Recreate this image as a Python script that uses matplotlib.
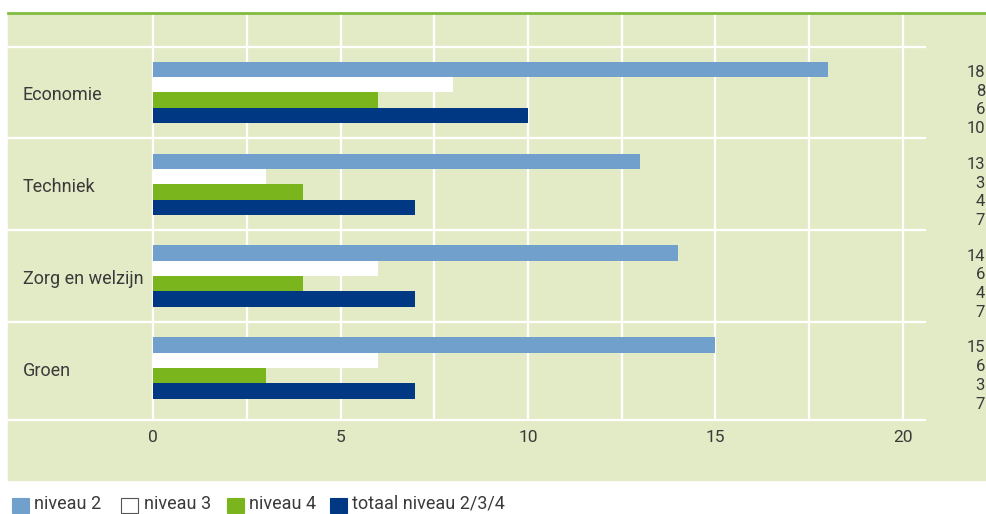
import matplotlib.pyplot as plt
import matplotlib.transforms as mtransforms
from matplotlib.patches import Rectangle
from matplotlib.lines import Line2D
import numpy as np

plt.rcParams['font.family'] = ['Roboto', 'DejaVu Sans']

# data
categories = ['Economie', 'Techniek', 'Zorg en welzijn', 'Groen']
series_names = ['niveau 2', 'niveau 3', 'niveau 4', 'totaal niveau 2/3/4']
niveau2 = [18, 13, 14, 15]
niveau3 = [8, 3, 6, 6]
niveau4 = [6, 4, 4, 3]
totaal = [10, 7, 7, 7]
xticks = [0, 5, 10, 15, 20]

colors = ['#70a0cb', '#ffffff', '#7ab51e', '#003884']
bg = '#e3eac6'
txt = '#3a3a3a'

W, H = 987, 514
fig = plt.figure(figsize=(W / 100, H / 100), dpi=100)

def fx(px):
    return px / W

def fy(py):
    return 1 - py / H

# panel background and top rule
fig.add_artist(Rectangle((fx(8), fy(480)), fx(987) - fx(8), fy(14) - fy(480),
                         transform=fig.transFigure, color=bg, zorder=0))
fig.add_artist(Line2D([fx(8), 1], [fy(13), fy(13)], transform=fig.transFigure,
                      color='#80bc40', lw=2, zorder=1))

# axes: 0 at x=153px, 37.5px per unit; rows 91.8px apart
ax = fig.add_axes([fx(8), fy(420), fx(925) - fx(8), fy(14) - fy(420)])
ax.patch.set_visible(False)
for s in ax.spines.values():
    s.set_visible(False)
ax.set_xlim(-145 / 37.5, (925 - 153) / 37.5)
ybot = (420 - 92.5) / 91.8
ax.set_ylim(ybot, (14 - 92.5) / 91.8)

for xv in np.arange(0, 20.1, 2.5):
    ax.axvline(xv, color='white', lw=1.6, zorder=1)
for yv in [-0.5, 0.5, 1.5, 2.5, ybot]:
    ax.axhline(yv, color='white', lw=1.6, zorder=1, clip_on=False)

y = np.arange(len(categories))
h = 0.167
all_series = [niveau2, niveau3, niveau4, totaal]
for i, (vals, c) in enumerate(zip(all_series, colors)):
    ax.barh(y + (i - 1.5) * h, vals, height=h, color=c, zorder=2, linewidth=0)

ax.set_yticks([])
ax.set_xticks(xticks)
ax.set_xticklabels([str(t) for t in xticks], fontsize=12.5, color=txt)
ax.tick_params(axis='x', length=0, pad=7)

# category labels and value columns
tr_left = mtransforms.blended_transform_factory(fig.transFigure, ax.transData)
for j, cat in enumerate(categories):
    ax.text(fx(23), y[j] + 0.03, cat, transform=tr_left, ha='left', va='center',
            fontsize=13, color=txt)
    for i, vals in enumerate(all_series):
        ax.text(fx(985), y[j] + 0.088 + (i - 1.5) * 0.204, str(vals[j]),
                transform=tr_left, ha='right', va='center', fontsize=12, color=txt)

# legend along the bottom
sq_x = [12, 121, 227, 330]
tx_x = [34, 144, 249, 352]
for name, c, sx, tx in zip(series_names, colors, sq_x, tx_x):
    fig.add_artist(Rectangle((fx(sx), fy(513)), fx(17), fy(498) - fy(513),
                             transform=fig.transFigure, facecolor=c,
                             edgecolor='#555555' if c == '#ffffff' else c, lw=0.8))
    fig.text(fx(tx), fy(509), name, ha='left', va='baseline', fontsize=13, color=txt)

plt.savefig('out.png', dpi=100)
